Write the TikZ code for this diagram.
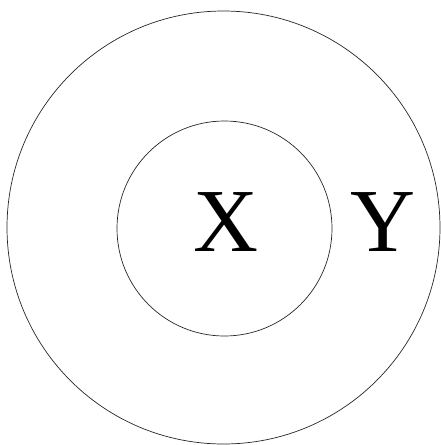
\documentclass[tikz,border=0pt]{standalone}
\usepackage{fontspec}
\setmainfont{Liberation Serif}
\begin{document}
\begin{tikzpicture}[x=1pt,y=-1pt]
\tikzset{ring/.style={draw=black!85,line width=0.7pt,circle,inner sep=0pt,outer sep=0pt},
  letter/.style={font=\fontsize{90}{90}\selectfont,inner sep=0pt}}
\useasboundingbox (0,0) rectangle (441,445);
\node[ring,minimum size=433pt] (outer) at (223.5,227.5) {};
\node[ring,minimum size=215pt] (inner) at (224.5,228.5) {};
\node[letter] (x) at (226,222) {X};
\node[letter] (y) at (382.5,222) {Y};
\end{tikzpicture}
\end{document}
